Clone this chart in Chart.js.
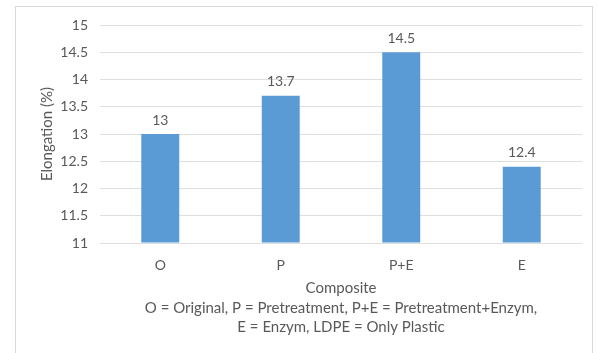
<!DOCTYPE html>
<html>
<head>
<meta charset="utf-8">
<script src="https://cdn.jsdelivr.net/npm/chart.js@4/dist/chart.umd.min.js"></script>
<style>
  html, body { margin: 0; padding: 0; background: #ffffff; }
  #wrap { position: relative; width: 598px; height: 353px; }
  canvas { display: block; }
</style>
</head>
<body>
<div id="wrap"><canvas id="chart" width="598" height="353"></canvas></div>
<script>
// Elongation by composite treatment
const categories = ['O', 'P', 'P+E', 'E'];
const elongation = [13, 13.7, 14.5, 12.4];
const yTicks = [11, 11.5, 12, 12.5, 13, 13.5, 14, 14.5, 15];
const yTitle = 'Elongation (%)';
const xTitleLines = [
  'Composite',
  'O = Original, P = Pretreatment, P+E = Pretreatment+Enzym,',
  'E = Enzym, LDPE = Only Plastic'
];

const TEXT = '#595959';
const FONT = 'Lato, "Open Sans", sans-serif';

// Light frame around the whole chart
const framePlugin = {
  id: 'frame',
  beforeDraw(chart) {
    const ctx = chart.ctx;
    ctx.save();
    ctx.fillStyle = '#ffffff';
    ctx.fillRect(0, 0, chart.width, chart.height);
    ctx.strokeStyle = '#d9d9d9';
    ctx.lineWidth = 1;
    ctx.strokeRect(15.5, 6.5, 577, 360);
    ctx.restore();
  }
};

// Value labels above each bar
const valueLabels = {
  id: 'valueLabels',
  afterDatasetsDraw(chart) {
    const ctx = chart.ctx;
    const meta = chart.getDatasetMeta(0);
    const data = chart.data.datasets[0].data;
    ctx.save();
    ctx.font = '14px ' + FONT;
    ctx.fillStyle = TEXT;
    ctx.textAlign = 'center';
    ctx.textBaseline = 'bottom';
    meta.data.forEach((bar, i) => {
      ctx.fillText(String(data[i]), bar.x, bar.y - 7);
    });
    ctx.restore();
  }
};

new Chart(document.getElementById('chart'), {
  type: 'bar',
  data: {
    labels: categories,
    datasets: [{
      data: elongation,
      base: 11,
      backgroundColor: '#5B9BD5',
      borderWidth: 0,
      categoryPercentage: 1,
      barPercentage: 0.315
    }]
  },
  options: {
    responsive: false,
    animation: false,
    devicePixelRatio: 1,
    layout: { padding: { left: 38, top: 25, right: 16, bottom: 12 } },
    plugins: {
      legend: { display: false },
      tooltip: { enabled: false }
    },
    scales: {
      x: {
        grid: { display: false, drawTicks: false },
        border: { display: false },
        ticks: { color: TEXT, font: { family: FONT, size: 14 }, padding: 14 },
        title: {
          display: true,
          text: xTitleLines,
          color: TEXT,
          font: { family: FONT, size: 15, lineHeight: 1.3 },
          padding: { top: 0, bottom: 4 }
        },
        afterFit(scale) { scale.height = 98; }
      },
      y: {
        min: 11,
        max: 15,
        afterBuildTicks(scale) { scale.ticks = yTicks.map(v => ({ value: v })); },
        grid: { color: '#dedede', drawTicks: false },
        border: { display: false },
        ticks: {
          color: TEXT,
          font: { family: FONT, size: 14 },
          padding: 12,
          callback: v => String(v)
        },
        title: {
          display: true,
          text: yTitle,
          color: TEXT,
          font: { family: FONT, size: 15 },
          padding: { top: 0, bottom: 4 }
        },
        afterFit(scale) { scale.width = 62; }
      }
    }
  },
  plugins: [framePlugin, valueLabels]
});
</script>
</body>
</html>
